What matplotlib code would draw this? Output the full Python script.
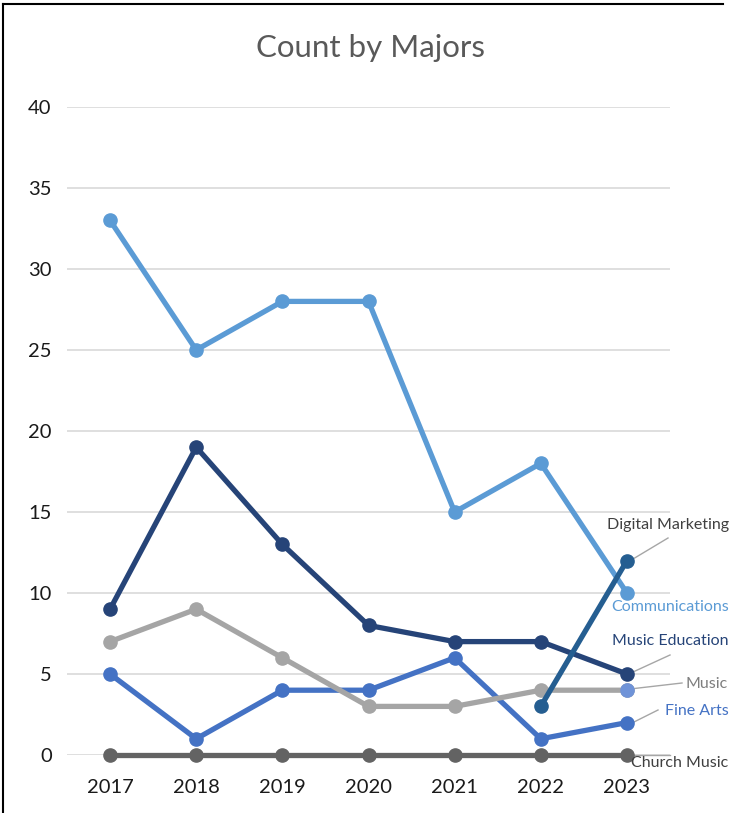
import matplotlib
matplotlib.use("Agg")
import matplotlib.pyplot as plt
import numpy as np

years = ["2017", "2018", "2019", "2020", "2021", "2022", "2023"]
communications = [33, 25, 28, 28, 15, 18, 10]
music_education = [9, 19, 13, 8, 7, 7, 5]
music = [7, 9, 6, 3, 3, 4, 4]
fine_arts = [5, 1, 4, 4, 6, 1, 2]
church_music = [0, 0, 0, 0, 0, 0, 0]
digital_marketing = [np.nan, np.nan, np.nan, np.nan, np.nan, 3, 12]
y_ticks = [0, 5, 10, 15, 20, 25, 30, 35, 40]

plt.rcParams['font.family'] = ['Lato', 'DejaVu Sans']

W, H = 730, 813
fig = plt.figure(figsize=(W / 100, H / 100), dpi=100)
ax = fig.add_axes([67 / W, 1 - 755 / H, (670 - 67) / W, (755 - 107) / H])

x = np.arange(len(years))
lw = 3.8
ms = 9.5
series = [
    (church_music, "#636363"),
    (fine_arts, "#4472C4"),
    (music, "#A5A5A5"),
    (music_education, "#264478"),
    (communications, "#5B9BD5"),
    (digital_marketing, "#255E91"),
]
for vals, c in series:
    ax.plot(x, vals, color=c, lw=lw, marker="o", ms=ms, solid_capstyle="round",
            zorder=3, clip_on=False)
# distinct end marker for Music at 2023
ax.plot([x[-1]], [music[-1]], marker="o", ms=ms, color="#6F93D8", lw=0, zorder=4)

ax.set_xlim(-0.5, len(years) - 0.5)
ax.set_ylim(0, 40)
ax.set_yticks(y_ticks)
ax.set_xticks(x)
ax.set_xticklabels(years)
ax.yaxis.grid(True, color="#D9D9D9", lw=1.2)
ax.set_axisbelow(True)
for s in ax.spines.values():
    s.set_visible(False)
ax.tick_params(length=0, labelsize=14.5, labelcolor="#1a1a1a")
ax.tick_params(axis="y", pad=11)
ax.tick_params(axis="x", pad=17)


def px2x(px):
    return -0.5 + (px - 67) / (670 - 67) * 7


def py2y(py):
    return (755 - py) / (755 - 107) * 40


def lbl(text, tx, ty, color):
    ax.text(px2x(tx), py2y(ty), text, ha="center", va="center", fontsize=11.5,
            color=color, clip_on=False)


def leader(x0, y0, x1, y1):
    ax.plot([px2x(x0), px2x(x1)], [py2y(y0), py2y(y1)], color="#A6A6A6",
            lw=1.0, zorder=2, clip_on=False)


lbl("Digital Marketing", 668, 525, "#404040")
leader(633, 559, 668, 538)
lbl("Communications", 670, 607, "#5B9BD5")
lbl("Music Education", 670, 641, "#264478")
leader(633, 672, 670, 655)
lbl("Music", 707, 684, "#7F7F7F")
leader(630, 689, 682, 683)
lbl("Fine Arts", 697, 711, "#4472C4")
leader(630, 724, 658, 710)
lbl("Church Music", 680, 763, "#404040")
leader(627, 755, 670, 755)

fig.text(370 / W, 1 - 48 / H, "Count by Majors", ha="center", va="center",
         fontsize=22.5, color="#595959")

# border: left and top
fig.add_artist(plt.Line2D([3 / W, 3 / W], [0, 1 - 4 / H], color="#000000", lw=1.5))
fig.add_artist(plt.Line2D([3 / W, 723 / W], [1 - 4 / H, 1 - 4 / H], color="#000000", lw=1.5))

fig.savefig("out.png", dpi=100)
